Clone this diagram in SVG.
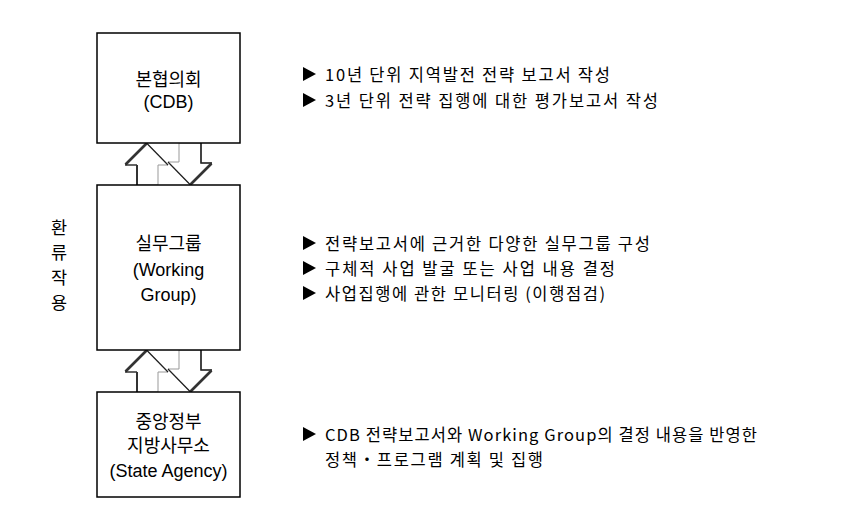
<svg xmlns="http://www.w3.org/2000/svg" width="856" height="511" viewBox="0 0 856 511">
<style>
.box{fill:#fff;stroke:#000;stroke-width:1.5}
.bt{font-family:"Liberation Sans","Noto Sans CJK KR",sans-serif;font-size:18px;fill:#000;text-anchor:middle}
.rt{font-family:"Noto Sans CJK KR","Liberation Sans",sans-serif;font-size:16.5px;fill:#000}
.tri{fill:#000}
.side{font-family:"Noto Sans CJK KR",sans-serif;font-size:17.5px;fill:#000;text-anchor:middle}
.ar{fill:#fff;stroke:#999;stroke-width:1}
.dk{fill:none;stroke:#222;stroke-width:1.2}
.th{fill:none;stroke:#333;stroke-width:2.6}
</style>
<defs>
<g id="pair">
<polygon class="ar" points="146.5,0 125,22 137,22 137,42 158,42 158,22 168,22"/>
<polyline class="th" points="125.5,21.5 146.5,0.5"/>
<polyline class="dk" points="125,22 137,22"/>
<polyline class="th" points="137,22 137,42" style="stroke-width:2"/>
<polyline class="dk" points="146.5,0 168,22"/>
<polygon class="ar" points="179,0 179,19 168,19 190.5,42 212,20 201,20 201,0"/>
<polyline class="dk" points="168,19 190.5,42"/>
<polyline class="dk" points="201,0 201,20 212,20" style="stroke-width:1.6"/>
<polyline class="th" points="211.5,20.5 190.5,41.5"/>
</g>
<polygon id="tr" points="0,0 13,7 0,14"/>
</defs>

<g id="connectors">
<use href="#pair" x="0" y="143"/>
<use href="#pair" x="0" y="350"/>
</g>

<g id="node-cdb">
<rect class="box" x="97" y="33" width="143" height="110"/>
<text class="bt" x="168.5" y="86">본협의회</text>
<text class="bt" x="168.5" y="108">(CDB)</text>
</g>

<g id="node-working-group">
<rect class="box" x="97" y="185" width="143" height="165"/>
<text class="bt" x="168.5" y="250">실무그룹</text>
<text class="bt" x="168.5" y="276">(Working</text>
<text class="bt" x="168.5" y="301">Group)</text>
</g>

<g id="node-state-agency">
<rect class="box" x="97" y="392" width="143" height="105"/>
<text class="bt" x="168.5" y="428">중앙정부</text>
<text class="bt" x="168.5" y="452">지방사무소</text>
<text class="bt" x="168.5" y="477">(State Agency)</text>
</g>

<g id="label-feedback">
<text class="side" x="59" y="234">환</text>
<text class="side" x="59" y="259">류</text>
<text class="side" x="59" y="284">작</text>
<text class="side" x="59" y="309">용</text>
</g>

<g id="notes-cdb">
<use href="#tr" class="tri" x="303" y="67"/>
<text class="rt" x="325" y="81" textLength="285" lengthAdjust="spacing">10년 단위 지역발전 전략 보고서 작성</text>
<use href="#tr" class="tri" x="303" y="93"/>
<text class="rt" x="325" y="107" textLength="333" lengthAdjust="spacing">3년 단위 전략 집행에 대한 평가보고서 작성</text>
</g>

<g id="notes-wg">
<use href="#tr" class="tri" x="303" y="236"/>
<text class="rt" x="325" y="250" textLength="325" lengthAdjust="spacing">전략보고서에 근거한 다양한 실무그룹 구성</text>
<use href="#tr" class="tri" x="303" y="261"/>
<text class="rt" x="325" y="275" textLength="290" lengthAdjust="spacing">구체적 사업 발굴 또는 사업 내용 결정</text>
<use href="#tr" class="tri" x="303" y="286"/>
<text class="rt" x="325" y="300" textLength="280" lengthAdjust="spacing">사업집행에 관한 모니터링 (이행점검)</text>
</g>

<g id="notes-agency">
<use href="#tr" class="tri" x="303" y="427"/>
<text class="rt" x="325" y="441" textLength="432" lengthAdjust="spacing">CDB 전략보고서와 Working Group의 결정 내용을 반영한</text>
<text class="rt" x="325" y="466" textLength="218" lengthAdjust="spacing">정책・프로그램 계획 및 집행</text>
</g>
</svg>
